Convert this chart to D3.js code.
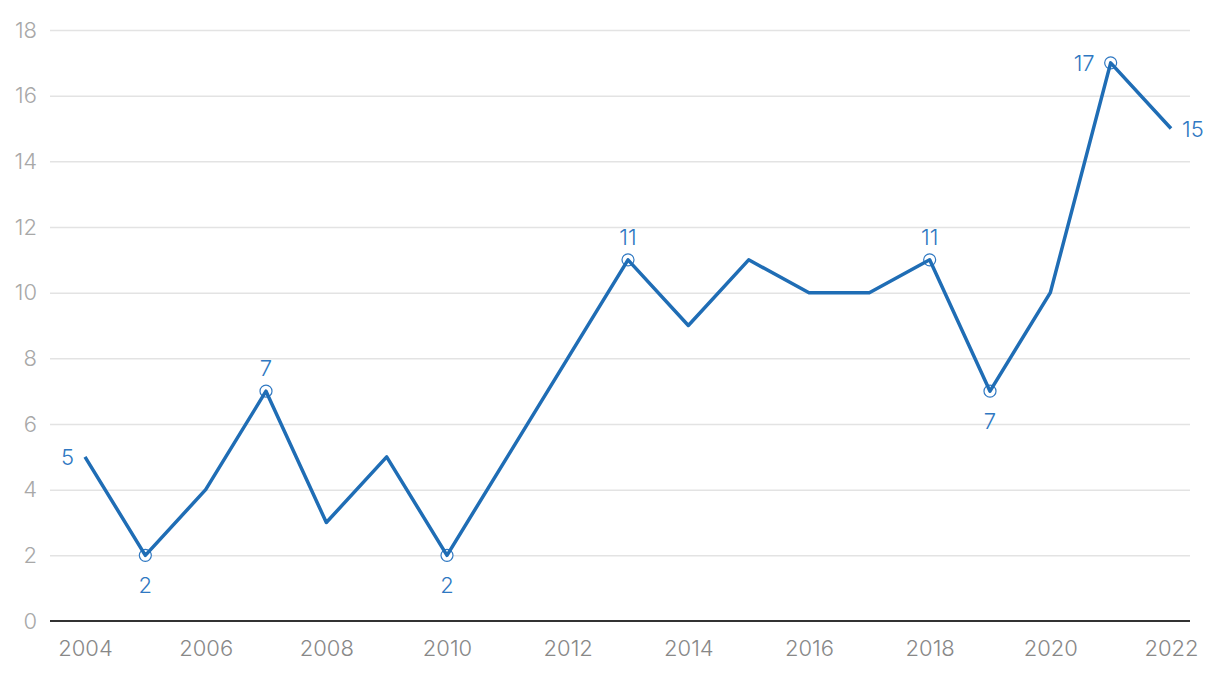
<!DOCTYPE html>
<html><head><meta charset="utf-8">
<script src="https://cdn.jsdelivr.net/npm/d3@7"></script>
<style>
html,body{margin:0;padding:0;background:#fff;}
svg{display:block;font-family:Inter,"Noto Sans",sans-serif;font-weight:300;}
</style></head>
<body><svg id="c" width="1220" height="674"></svg>
<script>
const years = [2004,2005,2006,2007,2008,2009,2010,2011,2012,2013,2014,2015,2016,2017,2018,2019,2020,2021,2022];
const values = [5,2,4,7,3,5,2,5,8,11,9,11,10,10,11,7,10,17,15];
const markedYears = [2005,2007,2010,2013,2018,2019,2021];
const labelBelow = [2005,2010,2019];
const yTicks = [0,2,4,6,8,10,12,14,16,18];
const xTicks = [2004,2006,2008,2010,2012,2014,2016,2018,2020,2022];

const svg = d3.select("#c");
const x = d3.scaleLinear().domain([2004,2022]).range([85,1171]);
const y = d3.scaleLinear().domain([0,18]).range([621,30]);
const blue = "#1f6db5", lblBlue = "#2f78c2";
const FS = 22;

// grid
const yAxis = d3.axisLeft(y).tickValues(yTicks).tickSize(-1140).tickPadding(13);
const gy = svg.append("g").attr("transform","translate(50,0)").call(yAxis);
gy.select(".domain").remove();
gy.selectAll(".tick line").attr("stroke","#e3e3e3").attr("stroke-width",1.5);
gy.selectAll(".tick text").attr("fill","#a8a8a8").attr("font-size",FS).attr("font-family","Inter,'Noto Sans',sans-serif").attr("font-weight",300);
gy.selectAll(".tick").filter(d=>d===0).select("line").remove();

// x axis
const xAxis = d3.axisBottom(x).tickValues(xTicks).tickFormat(d3.format("d")).tickSize(0).tickPadding(19);
const gx = svg.append("g").attr("transform","translate(0,621)").call(xAxis);
gx.select(".domain").remove();
gx.selectAll(".tick text").attr("fill","#888").attr("font-size",FS).attr("font-family","Inter,'Noto Sans',sans-serif").attr("font-weight",300);
svg.append("line").attr("x1",50).attr("x2",1190).attr("y1",y(0)).attr("y2",y(0)).attr("stroke","#333").attr("stroke-width",2);

const data = years.map((yr,i)=>({yr, v:values[i]}));

// markers
svg.append("g").selectAll("circle").data(data.filter(d=>markedYears.includes(d.yr))).join("circle")
  .attr("cx",d=>x(d.yr)).attr("cy",d=>y(d.v)).attr("r",6)
  .attr("fill","#fff").attr("stroke",lblBlue).attr("stroke-width",1.2);

// line
svg.append("path").datum(data).attr("fill","none").attr("stroke",blue).attr("stroke-width",3.5)
  .attr("stroke-linejoin","round")
  .attr("d", d3.line().x(d=>x(d.yr)).y(d=>y(d.v)));

// labels
const lab = svg.append("g").attr("font-size",FS).attr("fill",lblBlue);
data.forEach(d=>{
  let px = x(d.yr), py = y(d.v), anchor="middle", dy;
  if (d.yr===2004){ px -= 11; anchor="end"; dy = 8; }
  else if (d.yr===2022){ px += 11; anchor="start"; dy = 8; }
  else if (d.yr===2021){ px -= 16; anchor="end"; dy = 8; }
  else if (!markedYears.includes(d.yr)) return;
  else if (labelBelow.includes(d.yr)) dy = 38;
  else dy = -15;
  lab.append("text").attr("x",px).attr("y",py+dy).attr("text-anchor",anchor).text(d.v);
});
</script></body></html>
